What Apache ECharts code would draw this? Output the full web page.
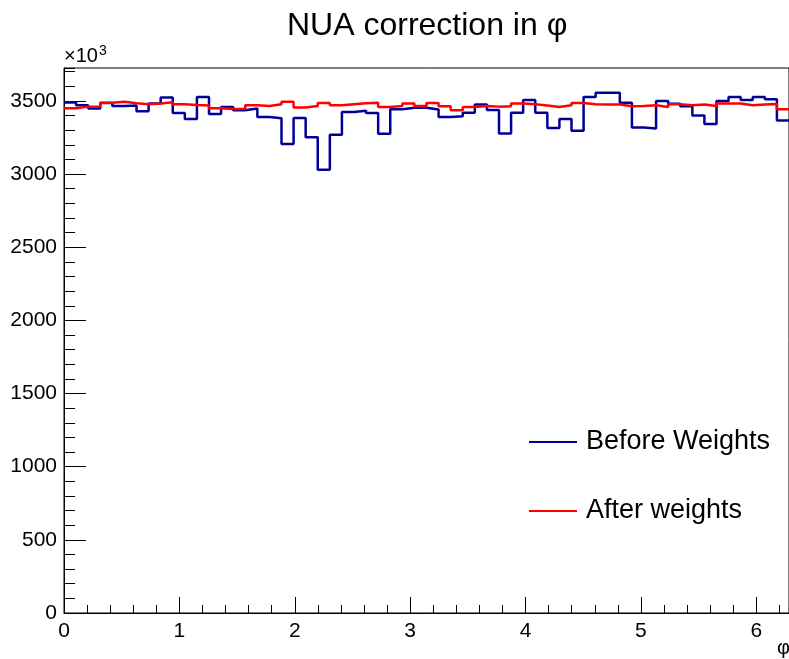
<!DOCTYPE html>
<html><head><meta charset="utf-8">
<script src="https://cdn.jsdelivr.net/npm/echarts@6/dist/echarts.min.js"></script>
<style>html,body{margin:0;padding:0;background:#fff}#c{width:789px;height:659px}</style>
</head><body><div id="c"></div>
<script>
const nBins = 60;
const phiMax = 2 * Math.PI;
const seriesNames = ['Before Weights', 'After weights'];
const beforeWeights = [
  3489, 3470, 3448, 3486, 3465, 3468, 3430, 3482, 3523, 3418,
  3376, 3527, 3410, 3459, 3436, 3448, 3390, 3382, 3205, 3383,
  3251, 3029, 3269, 3425, 3432, 3418, 3276, 3443, 3454, 3454,
  3441, 3390, 3396, 3419, 3476, 3438, 3278, 3419, 3507, 3419,
  3315, 3376, 3296, 3527, 3555, 3555, 3487, 3318, 3312, 3500,
  3480, 3463, 3400, 3342, 3500, 3527, 3507, 3527, 3512, 3367
];
const afterWeights = [
  3450, 3461, 3462, 3487, 3494, 3484, 3478, 3483, 3491, 3477,
  3472, 3468, 3450, 3445, 3446, 3470, 3466, 3478, 3495, 3455,
  3465, 3486, 3470, 3477, 3484, 3488, 3459, 3466, 3482, 3466,
  3486, 3463, 3437, 3459, 3466, 3461, 3463, 3482, 3477, 3468,
  3459, 3470, 3486, 3477, 3475, 3475, 3463, 3466, 3470, 3459,
  3477, 3470, 3475, 3466, 3482, 3482, 3470, 3475, 3479, 3443
];
const yMax = 3725;

const FONT = '"Liberation Sans", Arial, Helvetica, sans-serif';
const binW = phiMax / nBins;
function toSteps(vals) {
  const d = vals.map((v, i) => [i * binW, v]);
  d.push([phiMax, vals[vals.length - 1]]);
  return d;
}

const chart = echarts.init(document.getElementById('c'), null, {renderer: 'canvas'});
const labelStyle = {fontSize: 21, color: '#000', fontFamily: FONT};
chart.setOption({
  animation: false,
  backgroundColor: '#fff',
  title: {
    text: 'NUA correction in φ', left: 287, top: 10, padding: 0,
    textStyle: {fontSize: 32, fontWeight: 'normal', color: '#000', fontFamily: FONT}
  },
  grid: {left: 64, right: -1, top: 68, bottom: 46, show: true, borderColor: '#000', borderWidth: 1, backgroundColor: 'transparent'},
  legend: {
    orient: 'vertical', left: 529, top: 426, padding: 0, itemWidth: 48, itemHeight: 2, icon: 'rect',
    itemGap: 37, data: seriesNames,
    textStyle: {fontSize: 27, color: '#000', fontFamily: FONT, lineHeight: 32, padding: [0, 0, 0, 4]}
  },
  xAxis: [
    {type: 'value', min: 0, max: phiMax, interval: 1, position: 'bottom',
     axisLine: {show: true, lineStyle: {color: '#000', width: 1}},
     axisTick: {show: true, inside: true, length: 16, lineStyle: {color: '#000', width: 1}},
     axisLabel: Object.assign({showMaxLabel: false, margin: 8, formatter: v => String(Math.round(v))}, labelStyle),
     splitLine: {show: false}},
    {type: 'value', min: 0, max: phiMax, interval: 0.2, position: 'bottom',
     axisLine: {show: false},
     axisTick: {show: true, inside: true, length: 8, lineStyle: {color: '#000', width: 1}},
     axisLabel: {show: false}, splitLine: {show: false}}
  ],
  yAxis: [
    {type: 'value', min: 0, max: yMax, interval: 500, position: 'left',
     axisLine: {show: true, lineStyle: {color: '#000', width: 1}},
     axisTick: {show: true, inside: true, length: 22, lineStyle: {color: '#000', width: 1}},
     axisLabel: Object.assign({showMaxLabel: false, margin: 7, formatter: v => String(Math.round(v))}, labelStyle),
     splitLine: {show: false}},
    {type: 'value', min: 0, max: yMax, interval: 100, position: 'left',
     axisLine: {show: false},
     axisTick: {show: true, inside: true, length: 11, lineStyle: {color: '#000', width: 1}},
     axisLabel: {show: false}, splitLine: {show: false}}
  ],
  graphic: [
    {type: 'text', left: 64, top: 44, style: {
      text: '{a|×10}{b|3}', fontFamily: FONT, fill: '#000',
      rich: {a: {fontSize: 20, fontFamily: FONT, fill: '#000', verticalAlign: 'bottom'},
             b: {fontSize: 14, fontFamily: FONT, fill: '#000', verticalAlign: 'top', padding: [0, 0, 8, 1]}}
    }},
    {type: 'text', left: 777, top: 638, style: {text: 'φ', fontSize: 20, fill: '#000', fontFamily: FONT}}
  ],
  series: [
    {name: seriesNames[0], type: 'line', step: 'end', symbol: 'none', xAxisIndex: 0, yAxisIndex: 0,
     color: '#000099', lineStyle: {color: '#000099', width: 2.5}, data: toSteps(beforeWeights)},
    {name: seriesNames[1], type: 'line', step: 'end', symbol: 'none', xAxisIndex: 0, yAxisIndex: 0,
     color: '#ff0000', lineStyle: {color: '#ff0000', width: 2.5}, data: toSteps(afterWeights)}
  ]
});
</script></body></html>
